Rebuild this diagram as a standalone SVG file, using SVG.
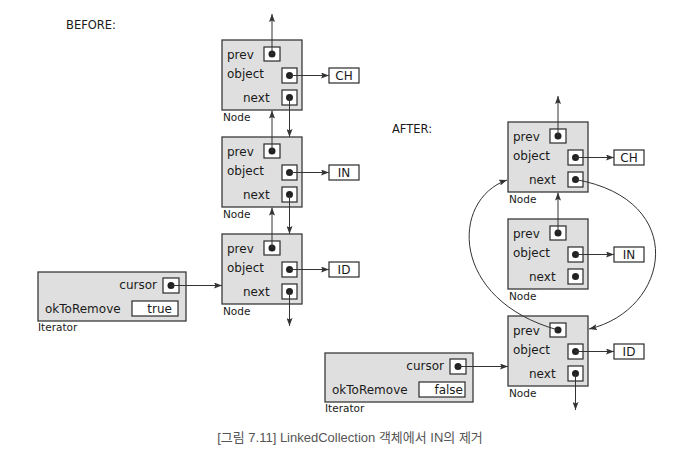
<svg xmlns="http://www.w3.org/2000/svg" width="696" height="458" viewBox="0 0 696 458">
<defs>
<style>
.box{fill:#dfdfdf;stroke:#3a3a3a;stroke-width:1.3}
.sb{fill:#fff;stroke:#2a2a2a;stroke-width:1.2}
.dot{fill:#222}
.t{font-family:"DejaVu Sans",sans-serif;font-size:12px;fill:#1a1a1a}
.lb{font-family:"DejaVu Sans",sans-serif;font-size:10.5px;fill:#1a1a1a}
.v{font-family:"DejaVu Sans",sans-serif;font-size:12px;fill:#1a1a1a;text-anchor:middle}
.h{font-family:"DejaVu Sans",sans-serif;font-size:11.5px;fill:#1a1a1a}
.cap{font-family:"Liberation Sans","Noto Sans CJK KR",sans-serif;font-size:13px;fill:#555;text-anchor:middle}
.c{fill:none;stroke:#333;stroke-width:1;marker-end:url(#ah)}
</style>
<marker id="ah" markerUnits="userSpaceOnUse" markerWidth="8" markerHeight="6" refX="8" refY="3" orient="auto">
<path d="M0,0 L8,3 L0,6 L1.5,3 z" fill="#333"/>
</marker>
<g id="nodeT">
<rect class="box" x="0" y="0" width="80" height="70"/>
<text class="t" x="5" y="18.5">prev</text>
<text class="t" x="5" y="37.5">object</text>
<text class="t" x="21" y="62">next</text>
<rect class="sb" x="42" y="7" width="16" height="14"/>
<circle class="dot" cx="50" cy="14" r="3.5"/>
<rect class="sb" x="60" y="28" width="15" height="15"/>
<circle class="dot" cx="67.5" cy="35.5" r="3.5"/>
<rect class="sb" x="60" y="50" width="15" height="15"/>
<circle class="dot" cx="67.5" cy="57.5" r="3.5"/>
<text class="lb" x="1" y="80.5">Node</text>
</g>
<g id="iterT">
<rect class="box" x="0" y="0" width="148" height="49"/>
<text class="t" x="119" y="17" text-anchor="end">cursor</text>
<rect class="sb" x="125" y="6" width="16" height="15"/>
<circle class="dot" cx="133" cy="13.5" r="3.5"/>
<text class="t" x="7" y="40.5">okToRemove</text>
<rect class="sb" x="94" y="29" width="46" height="15"/>
<text class="lb" x="0" y="59">Iterator</text>
</g>
</defs>
<rect width="696" height="458" fill="#fff"/>

<text class="h" x="66" y="29">BEFORE:</text>
<text class="h" x="392" y="133">AFTER:</text>

<g id="b-node1"><use href="#nodeT" x="222" y="40"/></g>
<g id="b-node2"><use href="#nodeT" x="222" y="137"/></g>
<g id="b-node3"><use href="#nodeT" x="222" y="234"/></g>
<g id="b-ch"><rect class="sb" x="329" y="68" width="30" height="15"/><text class="v" x="344" y="80">CH</text></g>
<g id="b-in"><rect class="sb" x="329" y="165" width="30" height="15"/><text class="v" x="344" y="177">IN</text></g>
<g id="b-id"><rect class="sb" x="329" y="262" width="30" height="15"/><text class="v" x="344" y="274">ID</text></g>
<g id="b-iter"><use href="#iterT" x="38" y="272"/><text class="t" x="172" y="313" text-anchor="end">true</text></g>

<g id="a-node1"><use href="#nodeT" x="508" y="122"/></g>
<g id="a-node2"><use href="#nodeT" x="508" y="219"/></g>
<g id="a-node3"><use href="#nodeT" x="508" y="316"/></g>
<g id="a-ch"><rect class="sb" x="614" y="150" width="30" height="15"/><text class="v" x="629" y="162">CH</text></g>
<g id="a-in"><rect class="sb" x="614" y="247" width="30" height="15"/><text class="v" x="629" y="259">IN</text></g>
<g id="a-id"><rect class="sb" x="614" y="344" width="30" height="15"/><text class="v" x="629" y="356">ID</text></g>
<g id="a-iter"><use href="#iterT" x="325" y="353"/><text class="t" x="463" y="394" text-anchor="end">false</text></g>

<g id="connectors">
<path class="c" d="M272,54 L272,14"/>
<path class="c" d="M289.5,97.5 L289.5,137"/>
<path class="c" d="M272,151 L272,110.5"/>
<path class="c" d="M289.5,194.5 L289.5,234"/>
<path class="c" d="M272,248 L272,207.5"/>
<path class="c" d="M289.5,291.5 L289.5,326"/>
<path class="c" d="M289.5,75.5 L329,75.5"/>
<path class="c" d="M289.5,172.5 L329,172.5"/>
<path class="c" d="M289.5,269.5 L329,269.5"/>
<path class="c" d="M171,285.5 L222,285.5"/>

<path class="c" d="M558,136 L558,96"/>
<path class="c" d="M558,233 L558,192.5"/>
<path class="c" d="M575.5,373.5 L575.5,410"/>
<path class="c" d="M575.5,157.5 L614,157.5"/>
<path class="c" d="M575.5,254.5 L614,254.5"/>
<path class="c" d="M575.5,351.5 L614,351.5"/>
<path class="c" d="M458,366.5 L508,366.5"/>
<path class="c" d="M575.5,179.5 C690,200 670,310 589,329"/>
<path class="c" d="M558,330 C450,300 450,200 507,180"/>
</g>

<text class="cap" x="350" y="442">[그림 7.11] LinkedCollection 객체에서 IN의 제거</text>
</svg>
